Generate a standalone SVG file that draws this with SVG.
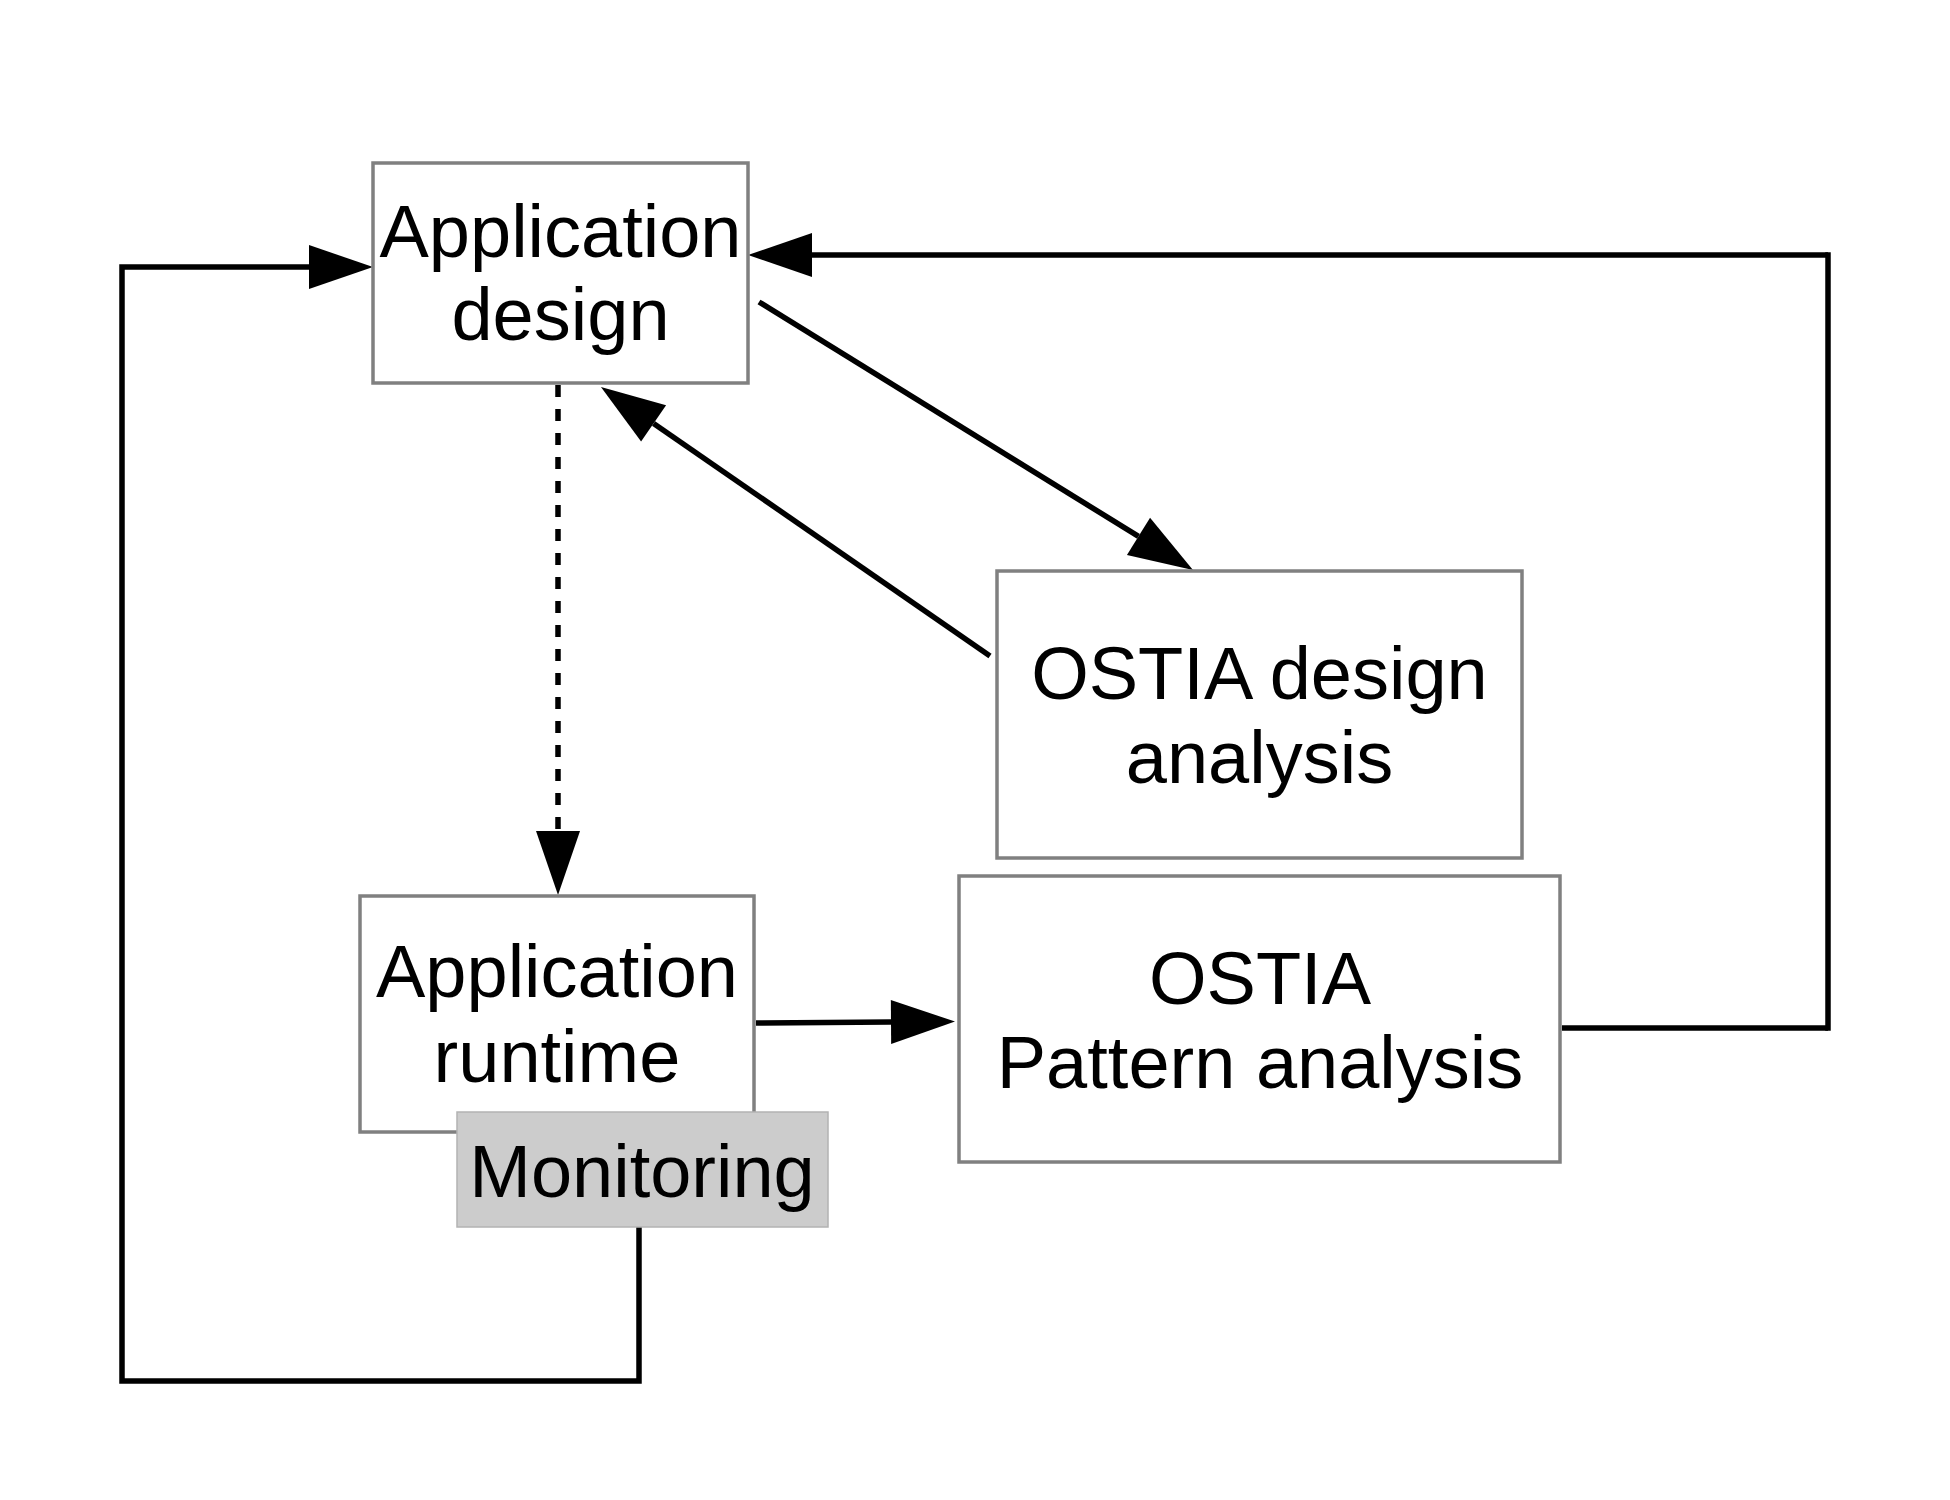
<svg xmlns="http://www.w3.org/2000/svg" width="1950" height="1500" viewBox="0 0 1950 1500">
<style>
.box{fill:#ffffff;stroke:#808080;stroke-width:3.5}
.mon{fill:#cccccc;stroke:#b3b3b3;stroke-width:1.5}
.lbl{font-family:"Liberation Sans",Arial,sans-serif;font-size:74px;fill:#000000;text-anchor:middle}
.con{fill:none;stroke:#000000;stroke-width:5.5}
.sq{stroke-linecap:square}
.dash{stroke-dasharray:12 12}
</style>
<defs>
<marker id="arr" markerUnits="userSpaceOnUse" markerWidth="66" markerHeight="46" refX="0" refY="22" orient="auto" overflow="visible">
<path d="M0,0 L64,22 L0,44 Z" fill="#000000"/>
</marker>
</defs>
<rect width="1950" height="1500" fill="#ffffff"/>
<g id="connectors">
<polyline class="con" points="639,1227 639,1381 122,1381 122,267 309,267" marker-end="url(#arr)"/>
<line class="con" x1="1562" y1="1028" x2="1828" y2="1028"/>
<line class="con sq" x1="1828" y1="255" x2="1828" y2="1028"/>
<line class="con" x1="1828" y1="255" x2="812" y2="255" marker-end="url(#arr)"/>
<line class="con" x1="759" y1="302" x2="1138.5" y2="536.4" marker-end="url(#arr)"/>
<line class="con" x1="990" y1="656" x2="653.6" y2="423.4" marker-end="url(#arr)"/>
<line class="con dash" x1="558" y1="385" x2="558" y2="831" marker-end="url(#arr)"/>
<line class="con" x1="756" y1="1023" x2="891" y2="1022" marker-end="url(#arr)"/>
</g>
<g id="app-design">
<rect class="box" x="373" y="163" width="375" height="220"/>
<text class="lbl" x="560.5" y="257">Application</text>
<text class="lbl" x="560.5" y="340">design</text>
</g>
<g id="ostia-design">
<rect class="box" x="997" y="571" width="525" height="287"/>
<text class="lbl" x="1259.5" y="699">OSTIA design</text>
<text class="lbl" x="1259.5" y="783">analysis</text>
</g>
<g id="app-runtime">
<rect class="box" x="360" y="896" width="394" height="236"/>
<text class="lbl" x="557" y="997">Application</text>
<text class="lbl" x="557" y="1082">runtime</text>
</g>
<g id="monitoring">
<rect class="mon" x="457" y="1112" width="371" height="115"/>
<text class="lbl" x="642" y="1197">Monitoring</text>
</g>
<g id="ostia-pattern">
<rect class="box" x="959" y="876" width="601" height="286"/>
<text class="lbl" x="1260" y="1004">OSTIA</text>
<text class="lbl" x="1260" y="1088">Pattern analysis</text>
</g>
</svg>
